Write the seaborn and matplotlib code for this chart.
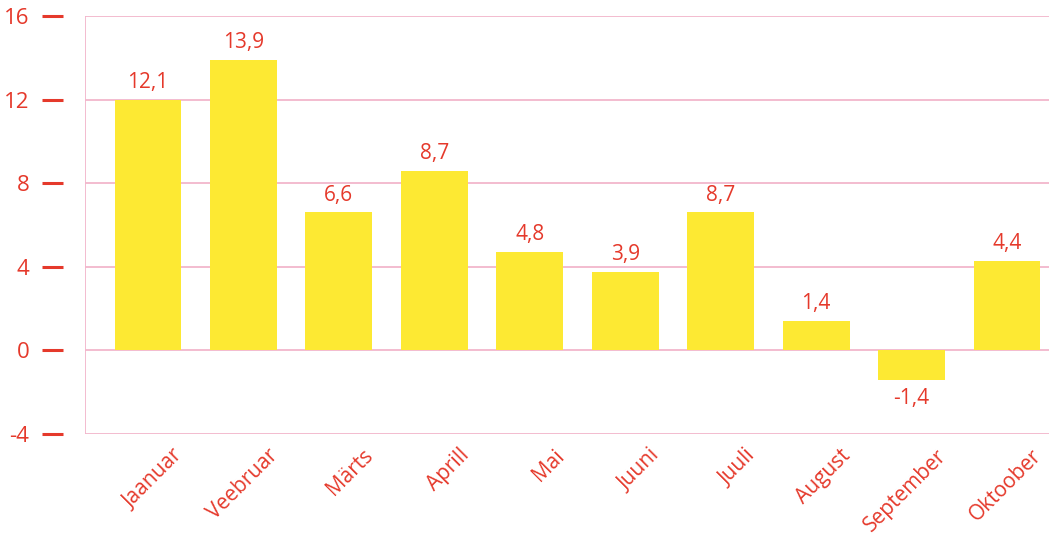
"""Gráfico de barras mensal — recriação."""

import matplotlib
matplotlib.use("Agg")
import matplotlib.pyplot as plt
from matplotlib.transforms import ScaledTranslation
import pandas as pd
import seaborn as sns

months = ["Jaanuar", "Veebruar", "Märts", "Aprill", "Mai",
          "Juuni", "Juuli", "August", "September", "Oktoober"]
values = [12.0, 13.9, 6.6, 8.6, 4.7, 3.75, 6.6, 1.4, -1.4, 4.3]
labels = ["12,1", "13,9", "6,6", "8,7", "4,8", "3,9", "8,7", "1,4", "-1,4", "4,4"]
yticks = [-4, 0, 4, 8, 12, 16]

RED = "#e5392b"
YELLOW = "#fde933"
PINK = "#f2b6cc"
DPI = 100

sns.set_theme(style="white")
plt.rcParams["font.family"] = ["Open Sans", "DejaVu Sans"]

df = pd.DataFrame({"month": months, "value": values})

fig = plt.figure(figsize=(1049 / DPI, 539 / DPI), dpi=DPI)
ax = fig.add_axes([85 / 1049, 105 / 539, 1 - 85 / 1049, (434 - 16) / 539])

sns.barplot(data=df, x="month", y="value", color=YELLOW, saturation=1,
            width=0.7, linewidth=0, ax=ax, zorder=3)

ax.set_xlim(-0.66, 9.44)
ax.set_ylim(-4, 16)
ax.set_yticks(yticks)
ax.set_yticklabels([str(t) for t in yticks])

for t in yticks:
    ax.axhline(t, color=PINK, linewidth=1.3, zorder=1)
ax.axvline(-0.66, color=PINK, linewidth=1.3, zorder=1)

for s in ax.spines.values():
    s.set_visible(False)
ax.spines["left"].set_position(("outward", 16))

ax.tick_params(axis="y", length=21 * 72 / DPI, width=2.2, color=RED,
               labelcolor=RED, labelsize=16, pad=9, left=True)
ax.tick_params(axis="x", length=0, labelcolor=RED, labelsize=15, pad=8)
ax.set_xlabel("")
ax.set_ylabel("")

offset = ScaledTranslation(24 / DPI, 0, fig.dpi_scale_trans)
for lab in ax.get_xticklabels():
    lab.set_rotation(45)
    lab.set_ha("right")
    lab.set_rotation_mode("anchor")
    lab.set_transform(lab.get_transform() + offset)

for bar, txt, v in zip(ax.patches, labels, values):
    x = bar.get_x() + bar.get_width() / 2
    if v >= 0:
        ax.annotate(txt, (x, v), xytext=(0, 5), textcoords="offset points",
                    ha="center", va="bottom", color=RED, fontsize=15)
    else:
        ax.annotate(txt, (x, v), xytext=(0, -6), textcoords="offset points",
                    ha="center", va="top", color=RED, fontsize=15)

fig.savefig("out.png", dpi=DPI)
plt.close(fig)
